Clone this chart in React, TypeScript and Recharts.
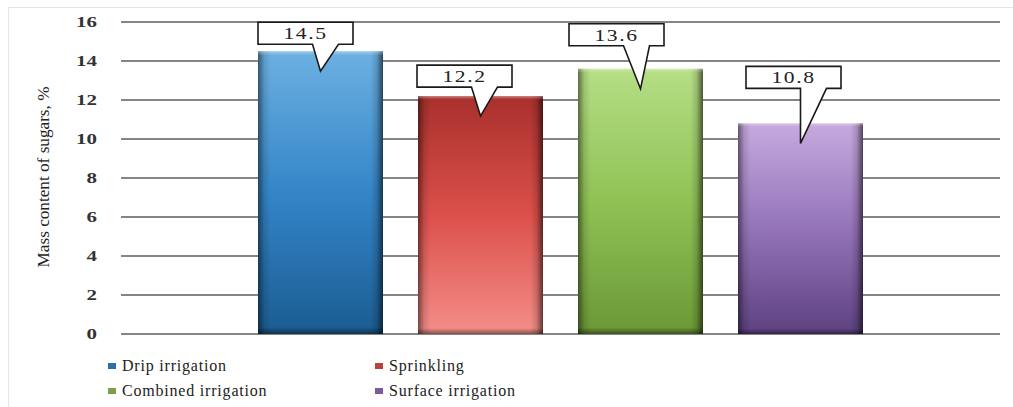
import React from 'react';
import { BarChart, Bar, XAxis, YAxis, CartesianGrid, Legend, LabelList } from 'recharts';

// ---- data ----
const categories = [''];
const seriesNames = ['Drip irrigation', 'Sprinkling', 'Combined irrigation', 'Surface irrigation'];
const seriesValues = [14.5, 12.2, 13.6, 10.8];
const yTicks = [0, 2, 4, 6, 8, 10, 12, 14, 16];
const yLabel = 'Mass content of sugars, %';

// ---- styles ----
const seriesKeys = ['s0', 's1', 's2', 's3'];
const gradStops = [
  ['#6cb0e2', '#3485c8', '#1b5c92'],
  ['#a8302c', '#dc504b', '#f48e88'],
  ['#b6de86', '#8fc255', '#6a9836'],
  ['#c6aade', '#9473b9', '#5d4180'],
];
const legendColors = ['#2f6ea6', '#b8403d', '#7d9d4b', '#7a5c9e'];
// callout box placement relative to the pointer tip (box centre dx, box bottom dy)
const calloutLayout = [
  { dx: -15, dy: -27 },
  { dx: -16, dy: -29 },
  { dx: -24, dy: -43 },
  { dx: -7, dy: -55 },
];
const SERIF = 'Liberation Serif';

const data = categories.map((c) => {
  const row: any = { name: c };
  seriesKeys.forEach((k, i) => (row[k] = seriesValues[i]));
  return row;
});

const makeShape = (i: number) => (props: any) => {
  const { x, y, width, height } = props;
  if (!height || height <= 0) return null;
  return (
    <g>
      <rect x={x} y={y} width={width} height={height} fill={`url(#vg${i})`} />
      <rect x={x} y={y} width={width} height={height} fill="url(#edgeH)" />
      <rect x={x} y={y} width={width} height={height} fill="url(#edgeV)" />
    </g>
  );
};

const makeCallout = (i: number) => (props: any) => {
  const { x, y, width, value } = props;
  const tipX = x + width / 2;
  const tipY = y + 20;
  const { dx, dy } = calloutLayout[i];
  const bw = 95;
  const bh = 22;
  const cx = tipX + dx;
  const bottom = tipY + dy;
  const top = bottom - bh;
  const l = cx - bw / 2;
  const r = cx + bw / 2;
  const bc = cx + 20;
  const d = `M${l},${top} L${r},${top} L${r},${bottom} L${bc + 13},${bottom} L${tipX},${tipY} L${bc - 13},${bottom} L${l},${bottom} Z`;
  return (
    <g>
      <path d={d} fill="#fff" stroke="#1a1a1a" strokeWidth={1.6} strokeLinejoin="miter" />
      <text
        transform={`translate(${cx},${top + bh / 2}) scale(1.35,1)`}
        textAnchor="middle"
        dy="0.36em"
        fontFamily={SERIF}
        fontSize={16}
        letterSpacing={1.2}
        fill="#222"
      >
        {String(value)}
      </text>
    </g>
  );
};

const YTick = (props: any) => {
  const { x, y, payload } = props;
  return (
    <text
      transform={`translate(${x},${y}) scale(1.5,1)`}
      textAnchor="end"
      dy="0.36em"
      fontFamily={SERIF}
      fontSize={14}
      fontWeight="bold"
      fill="#333"
    >
      {payload.value}
    </text>
  );
};

const YLabelContent = (props: any) => {
  const { viewBox } = props;
  const cx = 43;
  const cy = viewBox.y + viewBox.height / 2 - 1;
  return (
    <text
      transform={`translate(${cx},${cy}) rotate(-90)`}
      textAnchor="middle"
      dy="0.35em"
      fontFamily={SERIF}
      fontSize={17.2}
      fill="#222"
    >
      {yLabel}
    </text>
  );
};

const LegendContent = () => (
  <div
    style={{
      display: 'grid',
      gridTemplateColumns: '267px 300px',
      gridAutoRows: '25px',
      fontFamily: SERIF,
      fontSize: 16,
      letterSpacing: 0.8,
      color: '#222',
    }}
  >
    {seriesNames.map((n, i) => (
      <div key={n} style={{ display: 'flex', alignItems: 'center', whiteSpace: 'nowrap' }}>
        <span
          style={{
            display: 'inline-block',
            width: 8,
            height: 6,
            background: legendColors[i],
            marginRight: 6,
          }}
        />
        <span>{n}</span>
      </div>
    ))}
  </div>
);

export default function App() {
  return (
    <div style={{ position: 'absolute', left: 0, top: 0, width: 1013, height: 407, background: '#fff' }}>
      <div
        style={{
          position: 'absolute',
          left: 8,
          top: 7,
          width: 1005,
          height: 400,
          borderLeft: '1px solid #e6e6e6',
          borderTop: '1px solid #e6e6e6',
          boxSizing: 'border-box',
        }}
      />
      <BarChart
        width={1013}
        height={407}
        data={data}
        margin={{ top: 22, right: 13, left: 0, bottom: 73 }}
        barCategoryGap={137}
        barGap={35}
        barSize={125}
        style={{ position: 'absolute', left: 0, top: 0 }}
      >
        <defs>
          {gradStops.map((s, i) => (
            <linearGradient key={i} id={`vg${i}`} x1="0" y1="0" x2="0" y2="1">
              <stop offset="0%" stopColor={s[0]} />
              <stop offset="50%" stopColor={s[1]} />
              <stop offset="100%" stopColor={s[2]} />
            </linearGradient>
          ))}
          <linearGradient id="edgeH" x1="0" y1="0" x2="1" y2="0">
            <stop offset="0%" stopColor="#000" stopOpacity={0.5} />
            <stop offset="5%" stopColor="#000" stopOpacity={0.12} />
            <stop offset="10%" stopColor="#000" stopOpacity={0} />
            <stop offset="90%" stopColor="#000" stopOpacity={0} />
            <stop offset="95%" stopColor="#000" stopOpacity={0.15} />
            <stop offset="100%" stopColor="#000" stopOpacity={0.6} />
          </linearGradient>
          <linearGradient id="edgeV" x1="0" y1="0" x2="0" y2="1">
            <stop offset="0%" stopColor="#fff" stopOpacity={0.35} />
            <stop offset="1.5%" stopColor="#fff" stopOpacity={0} />
            <stop offset="97.5%" stopColor="#000" stopOpacity={0} />
            <stop offset="100%" stopColor="#000" stopOpacity={0.45} />
          </linearGradient>
        </defs>
        <CartesianGrid vertical={false} stroke="#858585" strokeWidth={2} />
        <XAxis dataKey="name" hide />
        <YAxis
          width={121}
          domain={[0, 16]}
          ticks={yTicks}
          interval={0}
          axisLine={false}
          tickLine={false}
          tickSize={0}
          tickMargin={24}
          tick={<YTick />}
          label={<YLabelContent />}
        />
        <Legend
          layout="horizontal"
          verticalAlign="middle"
          align="center"
          wrapperStyle={{ position: 'absolute', left: 108, top: 353, width: 600 }}
          content={<LegendContent />}
        />
        {seriesKeys.map((k, i) => (
          <Bar key={k} dataKey={k} name={seriesNames[i]} isAnimationActive={false} shape={makeShape(i)}>
            <LabelList dataKey={k} content={makeCallout(i)} />
          </Bar>
        ))}
      </BarChart>
    </div>
  );
}
